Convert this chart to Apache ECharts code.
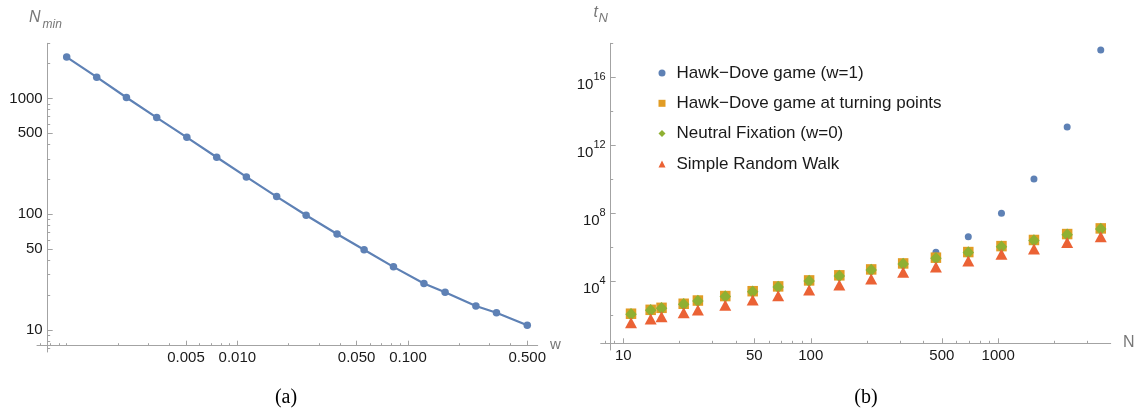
<!DOCTYPE html>
<html>
<head>
<meta charset="utf-8">
<script src="https://cdn.jsdelivr.net/npm/echarts@6/dist/echarts.min.js"></script>
<style>
  html, body { margin: 0; padding: 0; background: #fff; }
  #chart { width: 1139px; height: 414px; }
</style>
</head>
<body>
<div id="chart"></div>
<script>
// ---- panel (a): N_min against w ----
const wValues = [0.001, 0.0015, 0.00224, 0.00337, 0.00506, 0.00757, 0.0113, 0.017, 0.0253,
  0.0384, 0.0553, 0.0822, 0.124, 0.165, 0.25, 0.33, 0.5];
const nMinValues = [2280, 1530, 1020, 684, 462, 311, 210, 142, 98, 67.5, 49.3, 35.1, 25.2,
  21.2, 16.1, 14.1, 11.0];
const wTicks = [0.005, 0.01, 0.05, 0.1, 0.5];
const wTickLabels = ['0.005', '0.010', '0.050', '0.100', '0.500'];
const wMinorTicks = [0.0007, 0.0008, 0.0009, 0.001, 0.002, 0.003, 0.004, 0.006, 0.007, 0.008,
  0.009, 0.02, 0.03, 0.04, 0.06, 0.07, 0.08, 0.09, 0.2, 0.3, 0.4];
const nMinTicks = [10, 50, 100, 500, 1000];
const nMinTickLabels = ['10', '50', '100', '500', '1000'];
const nMinMinorTicks = [7, 8, 9, 20, 30, 40, 60, 70, 80, 90, 200, 300, 400, 600, 700, 800, 900,
  2000, 3000];

// ---- panel (b): t_N against N ----
const nValues = [11, 14, 16, 21, 25, 35, 49, 67, 98, 142, 210, 311, 465, 692, 1040, 1550, 2330, 3520];
const hawkDove = [105, 180, 240, 420, 650, 1180, 2300, 4400, 9800, 19800, 45000, 102000,
  490000, 4.07e6, 9.8e7, 1.02e10, 1.17e13, 4.07e17];
const turningPoints = [118, 200, 262, 455, 705, 1290, 2500, 4800, 10800, 21500, 48000, 108000,
  236000, 505000, 1.13e6, 2.6e6, 5.8e6, 1.25e7];
const neutralFixation = [110, 186, 245, 427, 661, 1200, 2340, 4470, 10000, 19950, 44700, 100000,
  219000, 468000, 1.05e6, 2.4e6, 5.37e6, 1.15e7];
const randomWalk = [35, 58, 79, 135, 195, 372, 759, 1350, 2950, 5750, 13200, 32400, 67600,
  151000, 372000, 776000, 1.82e6, 4.07e6];
const seriesNames = ['Hawk\u2212Dove game (w=1)', 'Hawk\u2212Dove game at turning points',
  'Neutral Fixation (w=0)', 'Simple Random Walk'];
const nTicks = [10, 50, 100, 500, 1000];
const nTickLabels = ['10', '50', '100', '500', '1000'];
const nMinorTicks = [8, 9, 20, 30, 40, 60, 70, 80, 90, 200, 300, 400, 600, 700, 800, 900, 2000, 3000];
const tTicks = [1e4, 1e8, 1e12, 1e16];
const tTickExps = ['4', '8', '12', '16'];
const tMinorTicks = [1e2, 1e6, 1e10, 1e14, 1e18];

// plot ranges (raw units)
const aX = [0.00067, 0.5756], aY = [6.45, 3000];
const bX = [7.58, 3977], bY = [0.86, 1e18];

const GREY = '#a3a3a3';
const LABEL = '#1a1a1a';
const FONT = '"Liberation Sans", Arial, sans-serif';
const BLUE = '#5E81B5', ORANGE = '#E19C24', GREEN = '#8FB032', RED = '#EB6235';

const lg = v => Math.log10(v);

function pick(ticks, labels) {
  return function (v) {
    const i = ticks.findIndex(t => Math.abs(lg(t) - v) < 1e-6);
    return i < 0 ? '' : labels[i];
  };
}

// decorative axes, linear in log10 space, lined up with the hidden log axes
function majorAxis(gridIndex, pos, range, ticks, formatter, extraLabel) {
  return {
    type: 'value', gridIndex: gridIndex, position: pos,
    min: lg(range[0]), max: lg(range[1]),
    axisLine: { show: true, onZero: false, lineStyle: { color: GREY, width: 1 } },
    axisTick: { show: true, inside: true, length: 5, lineStyle: { color: GREY }, customValues: ticks.map(t => lg(t)) },
    axisLabel: Object.assign({ show: true, customValues: ticks.map(t => lg(t)), formatter: formatter,
      color: LABEL, fontSize: 15, fontFamily: FONT, margin: 5 }, extraLabel || {}),
    splitLine: { show: false }
  };
}
function minorAxis(gridIndex, pos, range, ticks) {
  return {
    type: 'value', gridIndex: gridIndex, position: pos,
    min: lg(range[0]), max: lg(range[1]),
    axisLine: { show: false, onZero: false },
    axisTick: { show: true, inside: true, length: 2.5, lineStyle: { color: GREY }, customValues: ticks.map(t => lg(t)) },
    axisLabel: { show: false },
    splitLine: { show: false }
  };
}
function hiddenAxis(gridIndex, type, range) {
  const a = { type: type, gridIndex: gridIndex, show: false, splitLine: { show: false } };
  if (range) { a.min = range[0]; a.max = range[1]; }
  return a;
}

const chart = echarts.init(document.getElementById('chart'));

const option = {
  animation: false,
  backgroundColor: '#fff',
  grid: [
    { left: 37, right: 601.3, top: 43.3, bottom: 62, outerBoundsMode: 'none' },
    { left: 37, right: 601.3, top: 43.3, bottom: 68.3, outerBoundsMode: 'none' },
    { left: 47.7, right: 601.3, top: 43.3, bottom: 62, outerBoundsMode: 'none' },
    { left: 600.7, right: 28.3, top: 43.3, bottom: 64, outerBoundsMode: 'none' },
    { left: 600.7, right: 28.3, top: 43.3, bottom: 70.7, outerBoundsMode: 'none' },
    { left: 610.7, right: 28.3, top: 43.3, bottom: 64, outerBoundsMode: 'none' }
  ],
  xAxis: [
    hiddenAxis(0, 'log', aX),
    majorAxis(1, 'bottom', aX, wTicks, pick(wTicks, wTickLabels)),
    minorAxis(1, 'bottom', aX, wMinorTicks),
    hiddenAxis(2, 'value'),
    hiddenAxis(3, 'log', bX),
    majorAxis(4, 'bottom', bX, nTicks, pick(nTicks, nTickLabels)),
    minorAxis(4, 'bottom', bX, nMinorTicks),
    hiddenAxis(5, 'value')
  ],
  yAxis: [
    hiddenAxis(0, 'log', aY),
    hiddenAxis(1, 'value'),
    majorAxis(2, 'left', aY, nMinTicks, pick(nMinTicks, nMinTickLabels)),
    minorAxis(2, 'left', aY, nMinMinorTicks),
    hiddenAxis(3, 'log', bY),
    hiddenAxis(4, 'value'),
    majorAxis(5, 'left', bY, tTicks, function (v) {
      const i = tTicks.findIndex(t => Math.abs(lg(t) - v) < 1e-6);
      return i < 0 ? '' : '{base|10}{sup|' + tTickExps[i] + '}';
    }, {
      rich: {
        base: { fontSize: 15, fontFamily: FONT, color: LABEL, padding: [15, 0, 0, 0] },
        sup: { fontSize: 11, fontFamily: FONT, color: LABEL }
      }
    }),
    minorAxis(5, 'left', bY, tMinorTicks)
  ],
  legend: {
    orient: 'vertical',
    left: 653.5,
    top: 58,
    itemWidth: 7,
    itemHeight: 7,
    itemGap: 10.3,
    data: seriesNames,
    textStyle: { fontSize: 17, fontFamily: FONT, color: LABEL, lineHeight: 20, padding: [0, 0, 0, 6] }
  },
  graphic: [
    { type: 'text', x: 29, y: 17.5, style: { text: 'N', fontSize: 16, fontStyle: 'italic', fontFamily: FONT, fill: '#777', verticalAlign: 'middle' } },
    { type: 'text', x: 42.5, y: 24.5, style: { text: 'min', fontSize: 12, fontStyle: 'italic', fontFamily: FONT, fill: '#777', verticalAlign: 'middle' } },
    { type: 'text', x: 550, y: 344.5, style: { text: 'w', fontSize: 15, fontFamily: FONT, fill: '#777', verticalAlign: 'middle' } },
    { type: 'text', x: 593.5, y: 12.3, style: { text: 't', fontSize: 16, fontStyle: 'italic', fontFamily: FONT, fill: '#777', verticalAlign: 'middle' } },
    { type: 'text', x: 598.5, y: 18.3, style: { text: 'N', fontSize: 13, fontStyle: 'italic', fontFamily: FONT, fill: '#777', verticalAlign: 'middle' } },
    { type: 'text', x: 1123, y: 342.5, style: { text: 'N', fontSize: 16, fontFamily: FONT, fill: '#777', verticalAlign: 'middle' } },
    { type: 'text', x: 286, y: 398, style: { text: '(a)', fontSize: 20, fontFamily: '"Liberation Serif", "Times New Roman", serif', fill: '#000', align: 'center', verticalAlign: 'middle' } },
    { type: 'text', x: 866, y: 398, style: { text: '(b)', fontSize: 20, fontFamily: '"Liberation Serif", "Times New Roman", serif', fill: '#000', align: 'center', verticalAlign: 'middle' } }
  ],
  series: [
    {
      type: 'line', name: 'N_min', xAxisIndex: 0, yAxisIndex: 0,
      data: wValues.map((w, i) => [w, nMinValues[i]]),
      symbol: 'circle', symbolSize: 7.5, showSymbol: true,
      itemStyle: { color: BLUE }, lineStyle: { color: BLUE, width: 2.2 },
      silent: true
    },
    {
      type: 'scatter', name: seriesNames[0], xAxisIndex: 4, yAxisIndex: 4,
      data: nValues.map((n, i) => [n, hawkDove[i]]),
      symbol: 'circle', symbolSize: 7, itemStyle: { color: BLUE, opacity: 1 }
    },
    {
      type: 'scatter', name: seriesNames[1], xAxisIndex: 4, yAxisIndex: 4,
      data: nValues.map((n, i) => [n, turningPoints[i]]),
      symbol: 'rect', symbolSize: 10.5, itemStyle: { color: ORANGE, opacity: 1 }
    },
    {
      type: 'scatter', name: seriesNames[2], xAxisIndex: 4, yAxisIndex: 4,
      data: nValues.map((n, i) => [n, neutralFixation[i]]),
      symbol: 'diamond', symbolSize: [11.5, 12.5], itemStyle: { color: GREEN, opacity: 1 }
    },
    {
      type: 'scatter', name: seriesNames[3], xAxisIndex: 4, yAxisIndex: 4,
      data: nValues.map((n, i) => [n, randomWalk[i]]),
      symbol: 'triangle', symbolSize: [12, 11], itemStyle: { color: RED, opacity: 1 }
    }
  ]
};

chart.setOption(option);
</script>
</body>
</html>
